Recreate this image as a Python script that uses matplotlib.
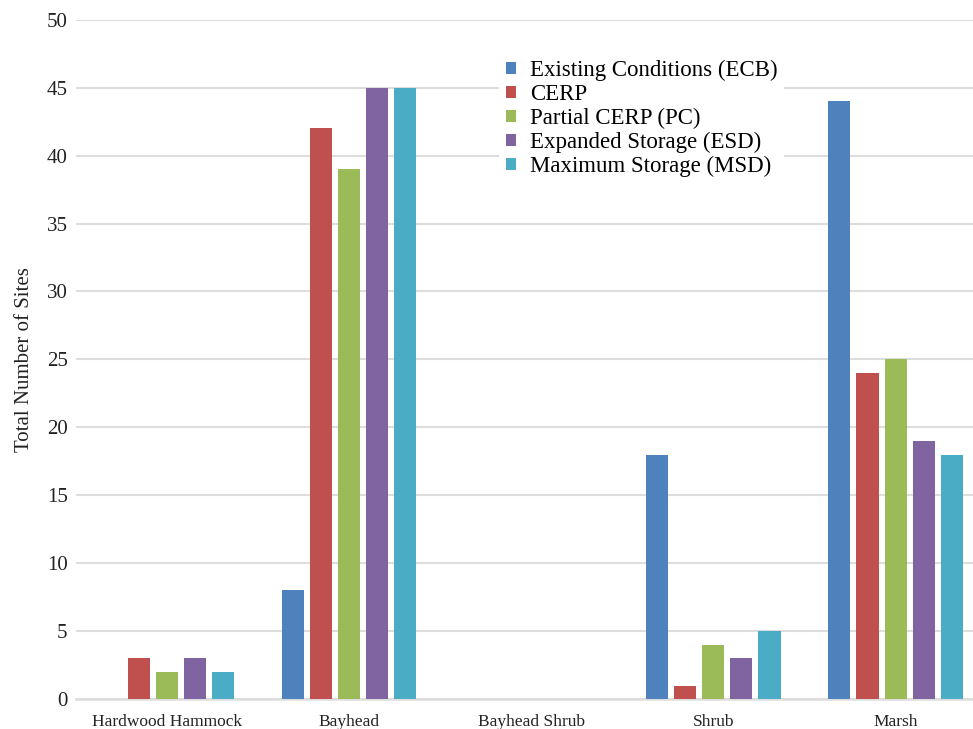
import matplotlib.pyplot as plt
import numpy as np

plt.rcParams['font.family'] = ['Liberation Serif', 'DejaVu Serif']

categories = ['Hardwood Hammock', 'Bayhead', 'Bayhead Shrub', 'Shrub', 'Marsh']
series_names = ['Existing Conditions (ECB)', 'CERP', 'Partial CERP (PC)',
                'Expanded Storage (ESD)', 'Maximum Storage (MSD)']
ecb = [0, 8, 0, 18, 44]
cerp = [3, 42, 0, 1, 24]
pc = [2, 39, 0, 4, 25]
esd = [3, 45, 0, 3, 19]
msd = [2, 45, 0, 5, 18]
colors = ['#4F81BD', '#C0504D', '#9BBB59', '#8064A2', '#4BACC6']

fig = plt.figure(figsize=(9.73, 7.29), dpi=100)
# plot area runs a little past the right edge of the canvas
ax = fig.add_axes([0.078, 0.041, 0.936, 0.932])

x = np.arange(len(categories))
step = 0.154
width = 0.121
for i, (vals, name, c) in enumerate(zip([ecb, cerp, pc, esd, msd], series_names, colors)):
    ax.bar(x + (i - 2) * step, vals, width, color=c, label=name, zorder=3)

ax.set_xlim(-0.5, len(categories) - 0.5)
ax.set_ylim(0, 50)
ax.set_yticks(np.arange(0, 51, 5))
ax.set_xticks(x)
ax.set_xticklabels(categories, fontsize=12.5)
ax.tick_params(axis='y', labelsize=15, length=0, pad=6, colors='#222222')
ax.tick_params(axis='x', length=0, pad=11, colors='#222222')
ax.yaxis.grid(True, color='#DDDDDD', linewidth=1.5, zorder=0)
for s in ['top', 'right', 'left']:
    ax.spines[s].set_visible(False)
ax.spines['bottom'].set_color('#DDDDDD')
ax.spines['bottom'].set_linewidth(1.8)
ax.set_ylabel('Total Number of Sites', fontsize=15, color='#222222', labelpad=9)

ax.legend(loc='upper left', bbox_to_anchor=(0.452, 0.968), frameon=True, fancybox=False,
          edgecolor='none', facecolor='white', framealpha=1, fontsize=16.5,
          handlelength=0.45, handleheight=0.45, handletextpad=0.6, labelspacing=0.13,
          borderpad=0.3)

fig.savefig('out.png', dpi=100)
